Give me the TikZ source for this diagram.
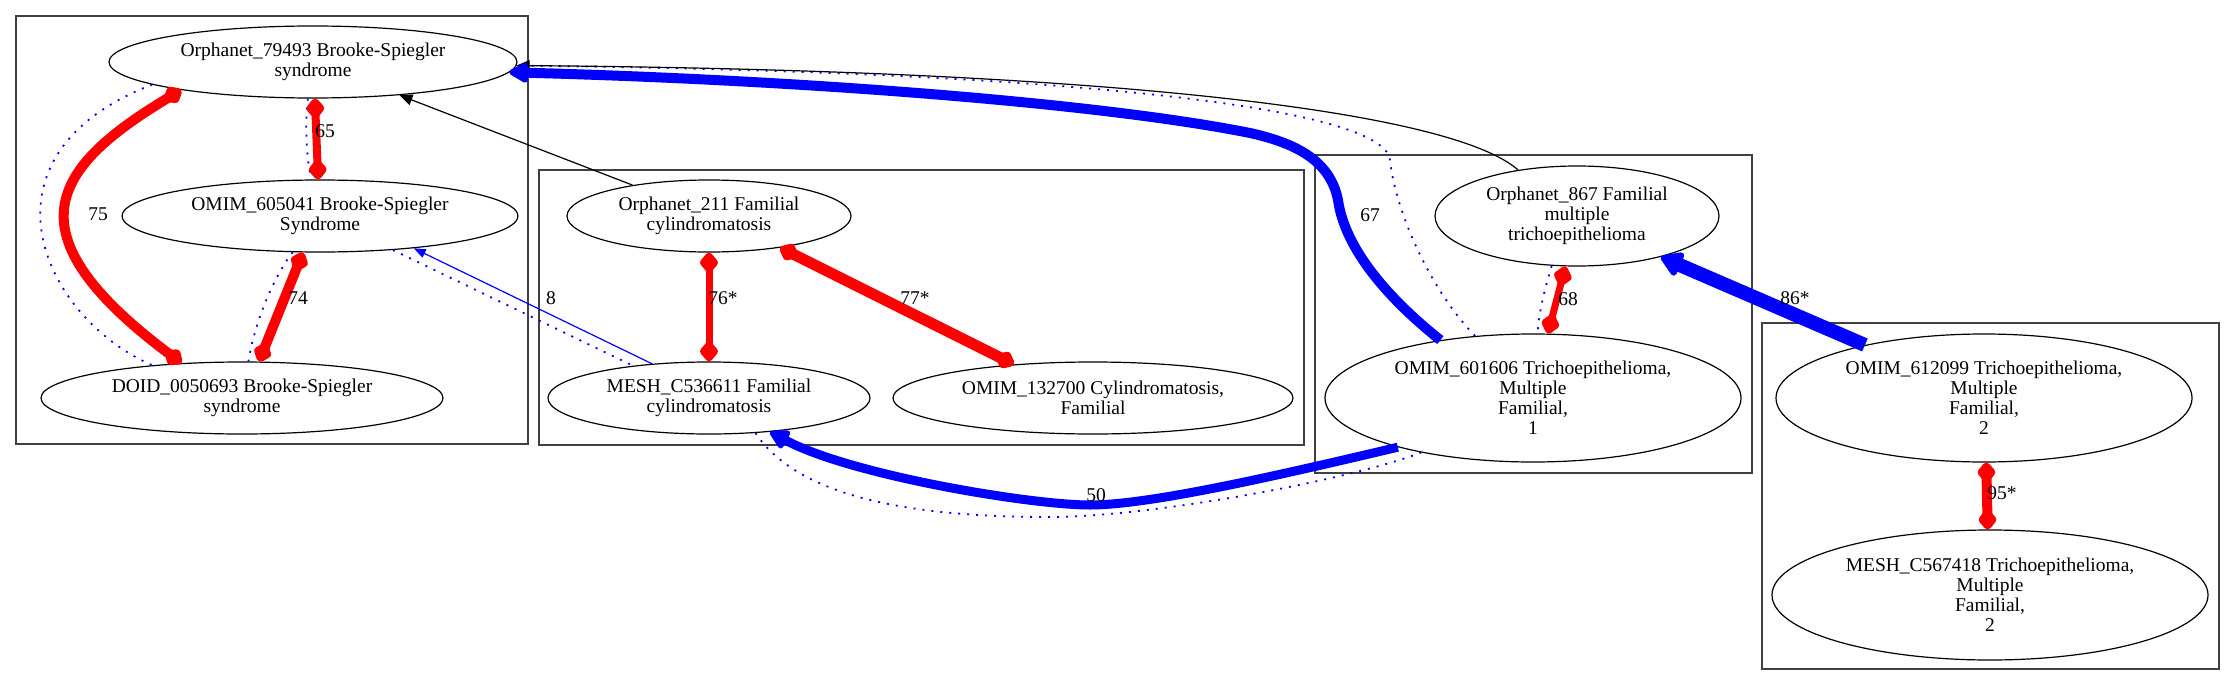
\documentclass[tikz,border=0pt]{standalone}
\usepackage{fontspec}
\setmainfont{Liberation Serif}
\usetikzlibrary{shapes.geometric,arrows.meta}
\tikzset{
  nd/.style={draw, ellipse, line width=1.2pt, inner sep=0pt, align=center,
    font=\fontsize{19.5}{20}\selectfont},
  lbl/.style={inner sep=0pt, font=\fontsize{19.5}{20}\selectfont},
  clus/.style={draw=black!75, line width=1.3pt},
  simE/.style={draw=red, {Diamond[length=24pt,width=20pt,round]}-{Diamond[length=24pt,width=20pt,round]}},
  dotE/.style={draw=blue, line width=1.8pt, dash pattern=on 2pt off 7pt},
  bigB/.style={draw=blue, -{Triangle[length=22pt,width=22pt,round]}},
  thinB/.style={draw=blue, line width=1.2pt, -{Triangle[length=12pt,width=9pt]}},
  blk/.style={draw=black, line width=1.2pt, -{Triangle[length=13pt,width=11pt]}}
}
\begin{document}
\begin{tikzpicture}[x=1pt,y=-1pt]
\useasboundingbox (0,0) rectangle (2235,685);
% clusters
\draw[clus] (16,16) rectangle (528,444);
\draw[clus] (539,170) rectangle (1304,445);
\draw[clus] (1315,155) rectangle (1752,473);
\draw[clus] (1762,323) rectangle (2219,669);
% nodes
\node[nd, minimum width=408pt, minimum height=72pt] (o79493) at (313,62) {Orphanet\_79493 Brooke-Spiegler\\syndrome};
\node[nd, minimum width=396pt, minimum height=72pt] (o605041) at (320,216) {OMIM\_605041 Brooke-Spiegler\\Syndrome};
\node[nd, minimum width=402pt, minimum height=72pt] (d0050693) at (242,398) {DOID\_0050693 Brooke-Spiegler\\syndrome};
\node[nd, minimum width=284pt, minimum height=72pt] (o211) at (709,216) {Orphanet\_211 Familial\\cylindromatosis};
\node[nd, minimum width=322pt, minimum height=72pt] (m536611) at (709,398) {MESH\_C536611 Familial\\cylindromatosis};
\node[nd, minimum width=400pt, minimum height=72pt] (o132700) at (1093,398) {OMIM\_132700 Cylindromatosis,\\Familial};
\node[nd, minimum width=284pt, minimum height=100pt] (o867) at (1577,216) {Orphanet\_867 Familial\\multiple\\trichoepithelioma};
\node[nd, minimum width=416pt, minimum height=128pt] (o601606) at (1533,398) {OMIM\_601606 Trichoepithelioma,\\Multiple\\Familial,\\1};
\node[nd, minimum width=416pt, minimum height=128pt] (o612099) at (1984,398) {OMIM\_612099 Trichoepithelioma,\\Multiple\\Familial,\\2};
\node[nd, minimum width=436pt, minimum height=130pt] (m567418) at (1990,595) {MESH\_C567418 Trichoepithelioma,\\Multiple\\Familial,\\2};
% dotted companions
\draw[dotE] (o79493.-98) .. controls (305,120) and (306,160) .. (o605041.103);
\draw[dotE] (o79493.-172) .. controls (-30,155) and (40,316) .. (d0050693.160);
\draw[dotE] (o605041.-127) .. controls (275,275) and (255,320) .. (d0050693.80);
\draw[dotE] (o605041.-25) -- (m536611.157);
\draw[dotE] (o601606.133) .. controls (1430,290) and (1395,210) .. (1390,160) .. controls (1385,110) and (1100,72) .. (o79493.-1);
\draw[dotE] (m536611.-37) .. controls (800,500) and (920,517) .. (1050,517) .. controls (1150,517) and (1350,480) .. (o601606.-154);
\draw[dotE] (o867.-117) .. controls (1546,285) and (1539,310) .. (o601606.86);
% red similarity edges
\draw[simE, line width=8pt] (o79493.-87) -- (o605041.93);
\draw[simE, line width=10pt] (o79493.-168) .. controls (51,168) and (7,233) .. (d0050693.150);
\draw[simE, line width=10pt] (o605041.-115) -- (d0050693.65);
\draw[simE, line width=7pt] (o211.-90) -- (m536611.90);
\draw[simE, line width=11pt] (o211.-24) -- (o132700.157);
\draw[simE, line width=7pt] (o867.-103) -- (o601606.77);
\draw[simE, line width=10pt] (o612099.-88) -- (m567418.92);
% black edges
\draw[blk] (o211.158) -- (o79493.-21);
\draw[blk] (o867.142) .. controls (1450,110) and (1100,70) .. (o79493.-1);
% blue edges
\draw[thinB] (m536611.149) -- (o605041.-19);
\draw[bigB, line width=10pt] (o601606.148) .. controls (1390,300) and (1345,250) .. (1338,200) .. controls (1330,160) and (1295,143) .. (1250,133) .. controls (1100,103) and (800,80) .. (o79493.-3);
\draw[bigB, line width=9pt] (o601606.-160) .. controls (1280,475) and (1150,505) .. (1090,505) .. controls (1030,505) and (850,475) .. (m536611.-29);
\draw[draw=blue, line width=14pt, -{Triangle[length=24pt,width=28pt,round]}] (o612099.156) -- (o867.-26);
% labels
\node[lbl] (l65) at (325,131) {65};
\node[lbl] (l75) at (98,214) {75};
\node[lbl] (l74) at (298,298) {74};
\node[lbl] (l8) at (551,298) {8};
\node[lbl] (l76) at (723,298) {76*};
\node[lbl] (l77) at (915,298) {77*};
\node[lbl] (l67) at (1370,215) {67};
\node[lbl] (l68) at (1568,299) {68};
\node[lbl] (l50) at (1096,495) {50};
\node[lbl] (l86) at (1795,298) {86*};
\node[lbl] (l95) at (2002,493) {95*};
\end{tikzpicture}
\end{document}
